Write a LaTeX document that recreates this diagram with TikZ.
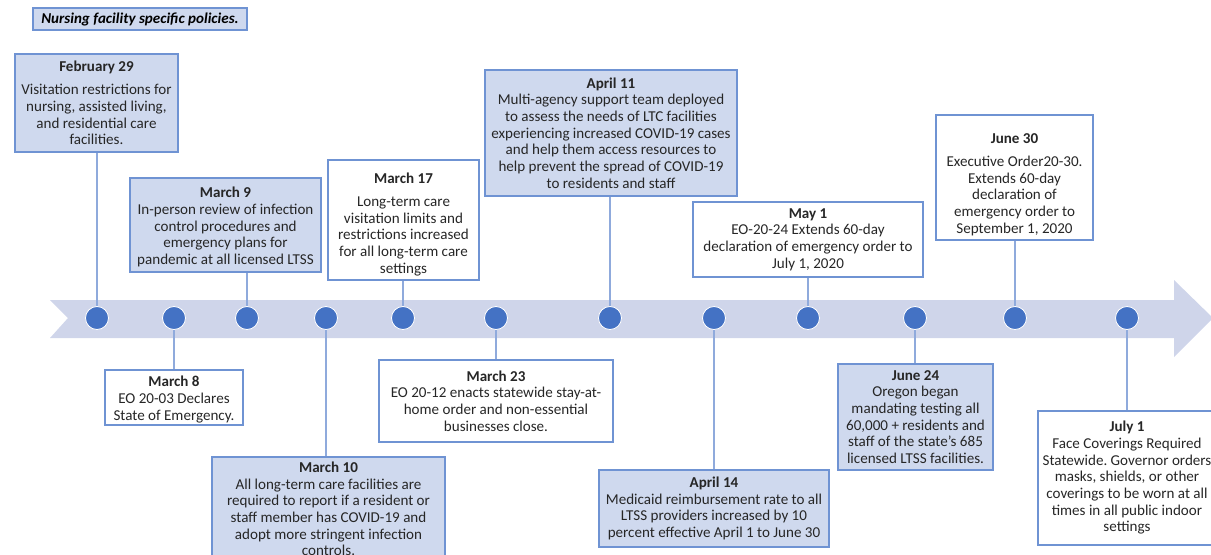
\documentclass[tikz,border=0pt]{standalone}
\usepackage{fontspec}
\setmainfont{Carlito}
\frenchspacing
\definecolor{band}{HTML}{CFD5EA}
\definecolor{dotblue}{HTML}{4472C4}
\definecolor{boxline}{HTML}{6F93D3}
\definecolor{boxfill}{HTML}{CFD9EE}
\definecolor{linkblue}{HTML}{8FAADC}
\definecolor{txt}{HTML}{262626}
\tikzset{
  evt/.style={draw=boxline,line width=1.1pt,inner sep=0pt,align=center,text=txt,
    font=\fontsize{11.3}{12.5}\selectfont},
  evtfill/.style={evt,fill=boxfill},
  tdot/.style={circle,fill=dotblue,draw=white,line width=0.6pt,minimum size=17.25pt,inner sep=0pt},
  link/.style={draw=linkblue,line width=0.9pt}
}
\begin{document}
\begin{tikzpicture}[x=0.75pt,y=-0.75pt]
\useasboundingbox (0,0) rectangle (1211,554);
% timeline arrow
\fill[band] (50,300) -- (1174,300) -- (1174,280) -- (1213,318) -- (1174,357) -- (1174,338)
  -- (50,338) -- (68,318) -- cycle;
\foreach \x [count=\i] in {97,174,247,326,403,496,610,714,808,915,1015,1127}
{
    \node[tdot] (d\i) at (\x,318) {};
}
% legend
\node[evtfill,minimum width=160.5pt,minimum height=16.5pt,text=black,
  font=\fontsize{11.3}{12}\selectfont\bfseries\itshape] (key) at (140,19) {Nursing facility specific policies.};
% above the line
\node[evtfill,minimum width=122.25pt,minimum height=73.5pt] (feb29) at (96.5,103)
  {\textbf{February 29}\\[5pt] Visitation restrictions for\\ nursing, assisted living,\\ and residential care\\ facilities.};
\node[evtfill,minimum width=143.25pt,minimum height=70.5pt] (mar9) at (225.5,225)
  {\rule{0pt}{11pt}\textbf{March 9}\\ In-person review of infection\\ control procedures and\\ emergency plans for\\ pandemic at all licensed LTSS};
\node[evt,minimum width=113.25pt,minimum height=90pt] (mar17) at (403.5,220)
  {\rule{0pt}{14pt}\textbf{March 17}\\[5pt] Long-term care\\ visitation limits and\\ restrictions increased\\ for all long-term care\\ settings};
\node[evtfill,minimum width=189pt,minimum height=94.5pt] (apr11) at (611,133)
  {\textbf{April 11}\\ Multi-agency support team deployed\\ to assess the needs of LTC facilities\\ experiencing increased COVID-19 cases\\ and help them access resources to\\ help prevent the spread of COVID-19\\ to residents and staff};
\node[evt,minimum width=172.5pt,minimum height=56.25pt] (may1) at (808,239.5)
  {\textbf{May 1}\\ EO-20-24 Extends 60-day\\ declaration of emergency order to\\ July 1, 2020};
\node[evt,minimum width=117.75pt,minimum height=93.75pt] (jun30) at (1014.5,177.5)
  {\rule{0pt}{18pt}\textbf{June 30}\\[5pt] Executive Order20-30.\\ Extends 60-day\\ declaration of\\ emergency order to\\ September 1, 2020};
% below the line
\node[evt,minimum width=103.5pt,minimum height=41.25pt] (mar8) at (174,397.5)
  {\rule{0pt}{11pt}\textbf{March 8}\\ EO 20-03 Declares\\ State of Emergency.};
\node[evt,minimum width=175.5pt,minimum height=61.5pt] (mar23) at (496,401)
  {\textbf{March 23}\\ EO 20-12 enacts statewide stay-at-\\ home order and non-essential\\ businesses close.};
\node[evtfill,minimum width=174.75pt,minimum height=78pt] (mar10) at (328.5,509)
  {\textbf{March 10}\\ All long-term care facilities are\\ required to report if a resident or\\ staff member has COVID-19 and\\ adopt more stringent infection\\ controls.};
\node[evtfill,minimum width=172.5pt,minimum height=57.75pt] (apr14) at (714,508.5)
  {\textbf{April 14}\\ Medicaid reimbursement rate to all\\ LTSS providers increased by 10\\ percent effective April 1 to June 30};
\node[evtfill,minimum width=116.25pt,minimum height=79.5pt] (jun24) at (915.5,417)
  {\textbf{June 24}\\ Oregon began\\ mandating testing all\\ 60,000 + residents and\\ staff of the state’s 685\\ licensed LTSS facilities.};
\node[evt,minimum width=133.5pt,minimum height=100.5pt] (jul1) at (1127,478)
  {\textbf{July 1}\\ Face Coverings Required\\ Statewide. Governor orders\\ masks, shields, or other\\ coverings to be worn at all\\ times in all public indoor\\ settings};
% stems
\draw[link] (d1) -- (d1 |- feb29.south);
\draw[link] (d2) -- (d2 |- mar8.north);
\draw[link] (d3) -- (d3 |- mar9.south);
\draw[link] (d4) -- (d4 |- mar10.north);
\draw[link] (d5) -- (d5 |- mar17.south);
\draw[link] (d6) -- (d6 |- mar23.north);
\draw[link] (d7) -- (d7 |- apr11.south);
\draw[link] (d8) -- (d8 |- apr14.north);
\draw[link] (d9) -- (d9 |- may1.south);
\draw[link] (d10) -- (d10 |- jun24.north);
\draw[link] (d11) -- (d11 |- jun30.south);
\draw[link] (d12) -- (d12 |- jul1.north);
\end{tikzpicture}
\end{document}
